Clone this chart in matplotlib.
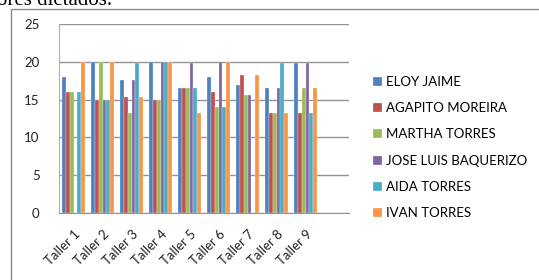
import numpy as np
import matplotlib
matplotlib.use("Agg")
from matplotlib import pyplot as plt
from matplotlib.patches import Rectangle

# data
categories = ["Taller 1", "Taller 2", "Taller 3", "Taller 4", "Taller 5",
              "Taller 6", "Taller 7", "Taller 8", "Taller 9", ""]
names = ["ELOY JAIME", "AGAPITO MOREIRA", "MARTHA TORRES",
         "JOSE LUIS BAQUERIZO", "AIDA TORRES", "IVAN TORRES"]
eloy_jaime = [18, 20, 17.6, 20, 16.5, 18, 16.9, 16.5, 19.8, 0]
agapito_moreira = [16, 15, 15.4, 15, 16.5, 16, 18.2, 13.2, 13.2, 0]
martha_torres = [16, 20, 13.2, 15, 16.5, 14, 15.6, 13.2, 16.5, 0]
jose_luis_baquerizo = [0, 15, 17.6, 20, 19.8, 20, 15.6, 16.5, 19.8, 0]
aida_torres = [16, 15, 19.8, 20, 16.5, 14, 0, 19.8, 13.2, 0]
ivan_torres = [20, 20, 15.4, 20, 13.2, 20, 18.2, 13.2, 16.5, 0]
yticks = [0, 5, 10, 15, 20, 25]

series = [eloy_jaime, agapito_moreira, martha_torres,
          jose_luis_baquerizo, aida_torres, ivan_torres]
colors = ["#4F81BD", "#C0504D", "#9BBB59", "#8064A2", "#4BACC6", "#F79646"]

plt.rcParams["font.family"] = ["Lato", "DejaVu Sans"]

fig = plt.figure(figsize=(5.39, 2.80), dpi=100)
ax = fig.add_axes([59 / 539, 1 - 213 / 280, 290 / 539, 189 / 280])

x = np.arange(len(categories))
width = 0.13
for i, (vals, name, col) in enumerate(zip(series, names, colors)):
    ax.bar(x + (i - 2.5) * width, vals, width, color=col, label=name,
           edgecolor="white", linewidth=0.2, zorder=3)

ax.set_xlim(-0.5, len(categories) - 0.5)
ax.set_ylim(0, 25)
ax.set_yticks(yticks)
ax.yaxis.grid(True, color="#939393", linewidth=1, zorder=0)
ax.set_xticks(x[:-1])
ax.set_xticklabels(categories[:-1], rotation=45, ha="right", va="top",
                   rotation_mode="anchor", fontsize=9.5, color="#222222")
ax.tick_params(axis="x", length=0, pad=11)
ax.tick_params(axis="y", length=0, pad=14, labelsize=9.5, labelcolor="#222222")
for s in ["top", "right"]:
    ax.spines[s].set_visible(False)
ax.spines["left"].set_color("#b0b0b0")
ax.spines["bottom"].set_color("#939393")

fig.legend(loc="upper left", bbox_to_anchor=(373 / 539, 1 - 76 / 280),
           frameon=False, fontsize=9.5, handlelength=0.7, handleheight=0.7,
           handletextpad=0.3, labelspacing=1.08, borderpad=0, borderaxespad=0)

# outer chart frame and the cut-off caption line above it
fig.patches.append(Rectangle((11 / 539, -0.1), 1.2, 1 - 9 / 280 + 0.1,
                             transform=fig.transFigure, fill=False,
                             edgecolor="#8a8a8a", linewidth=1))
fig.text(-0.005, 1 - 5 / 280, "ores dictados.", family="Liberation Serif",
         fontsize=15, va="baseline", ha="left", color="black")

fig.savefig("out.png", dpi=100)
